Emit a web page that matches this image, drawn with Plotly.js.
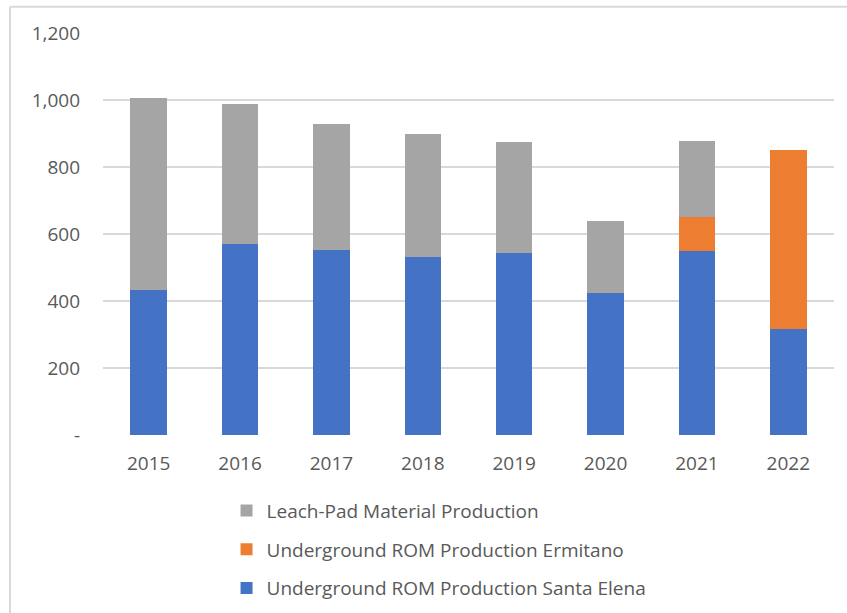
<!DOCTYPE html>
<html>
<head>
<meta charset="utf-8">
<script src="https://cdn.plot.ly/plotly-3.0.1.min.js"></script>
<style>html,body{margin:0;padding:0;background:#fff;}#chart{width:847px;height:613px;}</style>
</head>
<body>
<div id="chart"></div>
<script>
var years = ['2015','2016','2017','2018','2019','2020','2021','2022'];
var santaElena = [433, 570, 553, 532, 543, 423, 550, 317];
var ermitano = [0, 0, 0, 0, 0, 0, 101, 535];
var leachPad = [572, 419, 374, 368, 333, 217, 228, 0];
var yTickVals = [0, 200, 400, 600, 800, 1000, 1200];
var yTickText = ['-', '200', '400', '600', '800', '1,000', '1,200'];

var fontFam = '"Open Sans", "Noto Sans", sans-serif';
var txtColor = '#595959';

var traces = [
  {type:'bar', x: years, y: santaElena, name: 'Underground ROM Production Santa Elena', marker:{color:'#4472C4'}, legendgroup:'a', legendrank: 3},
  {type:'bar', x: years, y: ermitano, name: 'Underground ROM Production Ermitano', marker:{color:'#ED7D31'}, legendgroup:'b', legendrank: 2},
  {type:'bar', x: years, y: leachPad, name: 'Leach-Pad Material Production', marker:{color:'#A5A5A5'}, legendgroup:'c', legendrank: 1}
];

var layout = {
  width: 847, height: 613,
  margin: {l:103, r:13, t:33, b:178},
  barmode: 'stack',
  bargap: 0.6,
  paper_bgcolor: '#fff', plot_bgcolor: '#fff',
  font: {family: fontFam, color: txtColor, size: 19},
  showlegend: true,
  legend: {
    orientation: 'v', traceorder: 'grouped', tracegroupgap: 11,
    x: 0.169, xanchor: 'left', yref: 'container', y: 0.198, yanchor: 'top',
    font: {family: fontFam, size: 19, color: txtColor},
    bgcolor: 'rgba(0,0,0,0)'
  },
  xaxis: {
    type: 'category', showgrid: false, zeroline: false, showline: false,
    ticks: '', ticklabelstandoff: 15,
    tickfont: {family: fontFam, size: 19, color: txtColor}
  },
  yaxis: {
    range: [0, 1200], tickvals: yTickVals, ticktext: yTickText,
    showgrid: true, gridcolor: '#D9D9D9', gridwidth: 1.5,
    zeroline: false, showline: false, ticks: '', ticklabelstandoff: 22,
    tickfont: {family: fontFam, size: 19, color: txtColor}
  },
  shapes: [
    {type:'line', xref:'paper', yref:'paper', x0:-0.1272, x1:-0.1272, y0:1.0655, y1:-0.5, line:{color:'#D9D9D9', width:2}},
    {type:'line', xref:'paper', yref:'paper', x0:-0.1272, x1:1.1, y0:1.0655, y1:1.0655, line:{color:'#D9D9D9', width:2}}
  ]
};

Plotly.newPlot('chart', traces, layout, {displayModeBar:false, staticPlot:true});
</script>
</body>
</html>
